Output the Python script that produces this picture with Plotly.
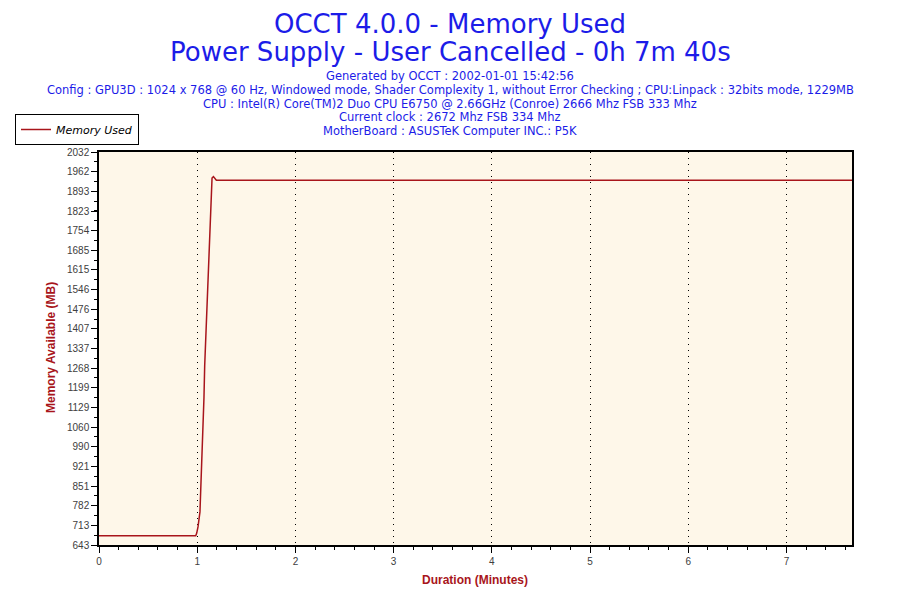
import plotly.graph_objects as go

# memory used over the run (minutes, MB)
minutes = [0.0, 0.985, 0.995, 1.008, 1.028, 1.039, 1.049, 1.059, 1.069, 1.076,
           1.087, 1.097, 1.107, 1.124, 1.134, 1.141, 1.151, 1.165, 1.195, 7.667]
memory_mb = [676, 676, 685, 707, 760, 855, 954, 1064, 1166, 1276,
             1378, 1477, 1580, 1682, 1778, 1873, 1940, 1945, 1932, 1932]

y_ticks = [643, 713, 782, 851, 921, 990, 1060, 1129, 1199, 1268, 1337,
           1407, 1476, 1546, 1615, 1685, 1754, 1823, 1893, 1962, 2032]
x_ticks = [0, 1, 2, 3, 4, 5, 6, 7]

title_lines = ["OCCT 4.0.0 - Memory Used",
               "Power Supply - User Cancelled - 0h 7m 40s"]
info_lines = [
    "Generated by OCCT : 2002-01-01 15:42:56",
    "Config : GPU3D : 1024 x 768 @ 60 Hz, Windowed mode, Shader Complexity 1, without Error Checking ; CPU:Linpack : 32bits mode, 1229MB",
    "CPU : Intel(R) Core(TM)2 Duo CPU E6750 @ 2.66GHz (Conroe) 2666 Mhz FSB 333 Mhz",
    "Current clock : 2672 Mhz FSB 334 Mhz",
    "MotherBoard : ASUSTeK Computer INC.: P5K",
]

x_range = [0, 7.667]
y_range = [643, 2032]
red = "#A8151B"
blue = "#1C1CE8"
tickfont = dict(family="Liberation Sans, Arial", size=10, color="#404040")

# the page body has an 8px margin, so lay out in page pixels and shift
off = 8
W, H = 900 - off, 600 - off
left, right, top, bottom = 99, 852, 152, 545
pw, ph = right - left, bottom - top


def px(x):
    return (x - left) / pw


def py(y):
    return (bottom - y) / ph


fig = go.Figure()
fig.add_trace(go.Scatter(x=minutes, y=memory_mb, mode="lines", name="Memory Used",
                         line=dict(color=red, width=1.5)))

fig.update_layout(
    width=W, height=H,
    paper_bgcolor="white", plot_bgcolor="#FEF7E9",
    margin=dict(l=left - off, r=900 - right, t=top - off, b=600 - bottom, autoexpand=False),
    showlegend=True,
    legend=dict(xref="paper", yref="paper", x=px(15), y=py(114),
                xanchor="left", yanchor="top", bgcolor="white",
                bordercolor="black", borderwidth=1,
                font=dict(family="DejaVu Sans", size=11, style="italic", color="black"),
                itemwidth=30, tracegroupgap=0),
    xaxis=dict(range=x_range, tickvals=x_ticks, ticks="outside", ticklen=6, tickcolor="black",
               showline=True, linecolor="black", linewidth=1.5, mirror=True,
               showgrid=True, gridcolor="black", gridwidth=1, griddash="1px,5px",
               zeroline=False, tickfont=tickfont,
               minor=dict(dtick=0.2, tick0=0, ticks="outside", ticklen=3, tickcolor="black",
                          showgrid=False)),
    yaxis=dict(range=y_range, tickvals=y_ticks, ticktext=[str(v) for v in y_ticks],
               ticks="outside", ticklen=6, tickcolor="black",
               showline=True, linecolor="black", linewidth=1.5, mirror=True,
               showgrid=False, zeroline=False, tickfont=tickfont,
               minor=dict(dtick=(2032 - 643) / 40, tick0=643, ticks="outside", ticklen=3,
                          tickcolor="black", showgrid=False)),
    xaxis2=dict(overlaying="x", anchor="y", side="bottom", range=x_range, tickvals=x_ticks,
                ticks="inside", ticklen=6, tickcolor="black", showticklabels=False,
                showline=False, showgrid=False, zeroline=False,
                minor=dict(dtick=0.2, tick0=0, ticks="inside", ticklen=3, tickcolor="black")),
    yaxis2=dict(overlaying="y", anchor="x", side="left", range=y_range, tickvals=y_ticks,
                ticks="inside", ticklen=6, tickcolor="black", showticklabels=False,
                showline=False, showgrid=False, zeroline=False,
                minor=dict(dtick=(2032 - 643) / 40, tick0=643, ticks="inside", ticklen=3,
                           tickcolor="black")),
)

for i, line in enumerate(title_lines):
    fig.add_annotation(text=line, x=px(450), y=py(24 + 28 * i), xref="paper", yref="paper",
                       showarrow=False, xanchor="center", yanchor="middle",
                       font=dict(family="DejaVu Sans", size=26, color=blue))
for i, line in enumerate(info_lines):
    fig.add_annotation(text=line, x=px(450), y=py(76 + 13.8 * i), xref="paper", yref="paper",
                       showarrow=False, xanchor="center", yanchor="middle",
                       font=dict(family="DejaVu Sans", size=11.5, color=blue))

axis_font = dict(family="Liberation Sans, Arial", size=12, color=red)
fig.add_annotation(text="<b>Duration (Minutes)</b>", x=px(475), y=py(580), xref="paper", yref="paper",
                   showarrow=False, xanchor="center", yanchor="middle", font=axis_font)
fig.add_annotation(text="<b>Memory Available (MB)</b>", x=px(51), y=py(348), xref="paper", yref="paper",
                   showarrow=False, xanchor="center", yanchor="middle", textangle=-90, font=axis_font)

fig.write_html("out.html")
